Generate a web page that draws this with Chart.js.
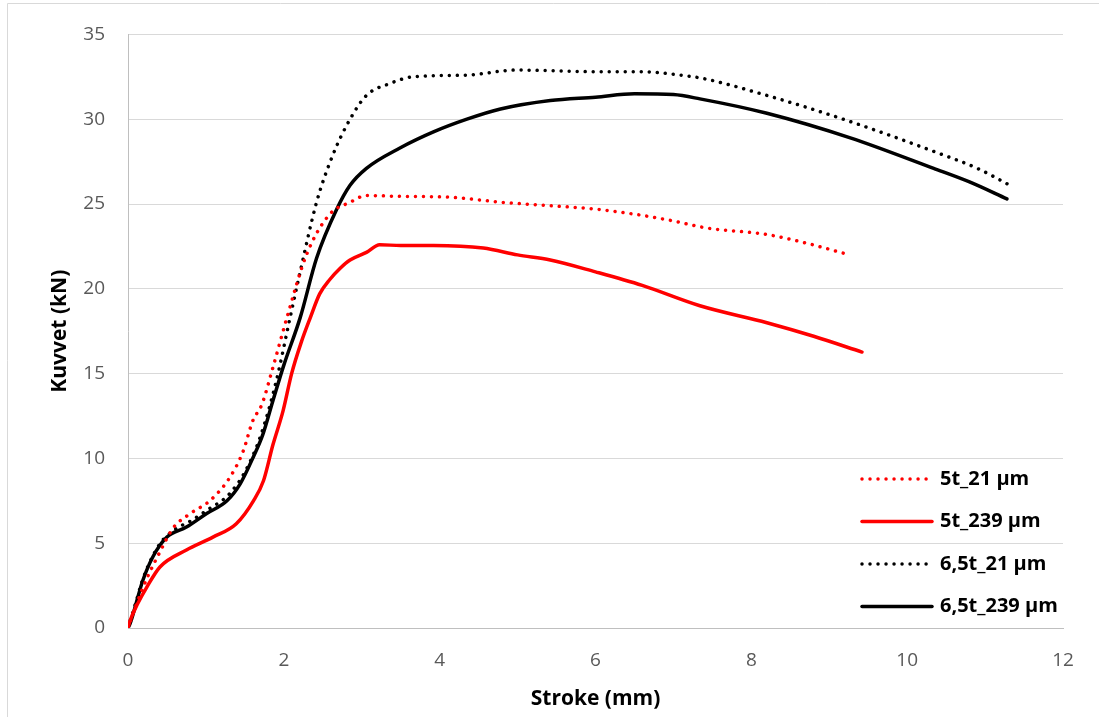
<!DOCTYPE html>
<html>
<head>
<meta charset="utf-8">
<script src="https://cdn.jsdelivr.net/npm/chart.js@4.4.1/dist/chart.umd.min.js"></script>
<style>
  body { margin: 0; background: #fff; }
  #wrap { width: 1099px; height: 717px; }
</style>
</head>
<body>
<div id="wrap"><canvas id="myCanvas" width="1099" height="717"></canvas></div>
<script>
// values (stroke in mm, force in kN)
const labels = ['5t_21 µm', '5t_239 µm', '6,5t_21 µm', '6,5t_239 µm']

const x5t21 = [0, 0.1, 0.25, 0.4, 0.58, 0.8, 1.05, 1.31, 1.48, 1.6, 1.72, 1.85, 2.04, 2.29, 2.59, 2.85, 3.06, 3.5, 4.13, 4.8, 5.42, 6.0, 6.5, 7.0, 7.41, 8.2, 8.7, 9.22]
const y5t21 = [0, 1.3, 3.0, 4.4, 5.9, 6.75, 7.5, 8.9, 10.45, 12.2, 13.2, 15.2, 18.3, 22.0, 24.4, 25.1, 25.5, 25.45, 25.4, 25.1, 24.9, 24.7, 24.4, 24.0, 23.6, 23.2, 22.7, 22.05]

const x5t239 = [0, 0.03, 0.12, 0.24, 0.41, 0.75, 1.09, 1.39, 1.61, 1.74, 1.86, 1.99, 2.1, 2.22, 2.34, 2.46, 2.59, 2.72, 2.85, 3.06, 3.23, 3.5, 3.92, 4.56, 5.0, 5.42, 6.0, 6.6, 7.34, 8.2, 8.8, 9.42]
const y5t239 = [0, 0.47, 1.4, 2.4, 3.6, 4.6, 5.36, 6.15, 7.5, 8.7, 10.8, 12.8, 15.0, 16.8, 18.3, 19.7, 20.55, 21.2, 21.7, 22.15, 22.6, 22.55, 22.55, 22.4, 22.0, 21.7, 21.0, 20.2, 19.0, 18.0, 17.2, 16.27]

const x65t21 = [0, 0.1, 0.2, 0.4, 0.6, 0.8, 1.0, 1.3, 1.5, 1.7, 1.9, 2.08, 2.21, 2.42, 2.63, 2.85, 3.06, 3.36, 3.66, 4.35, 4.99, 5.5, 6.0, 6.6, 7.0, 7.38, 8.2, 9.18, 10.34, 10.9, 11.36]
const y65t21 = [0, 1.5, 3.0, 4.9, 5.8, 6.3, 6.9, 7.9, 9.2, 11.3, 14.5, 18.3, 21.0, 25.1, 27.9, 30.0, 31.4, 32.1, 32.5, 32.6, 32.9, 32.85, 32.8, 32.8, 32.65, 32.4, 31.4, 30.0, 28.1, 27.1, 26.0]

const x65t239 = [0, 0.03, 0.19, 0.32, 0.5, 0.75, 1.01, 1.27, 1.44, 1.61, 1.73, 1.86, 2.0, 2.21, 2.42, 2.68, 2.85, 3.06, 3.49, 3.92, 4.35, 4.78, 5.42, 6.0, 6.5, 7.0, 7.34, 8.2, 9.27, 10.34, 10.8, 11.28]
const y65t239 = [0, 0.3, 2.8, 4.2, 5.36, 5.95, 6.75, 7.5, 8.5, 10.1, 11.4, 13.4, 15.5, 18.3, 21.8, 24.7, 26.1, 27.1, 28.3, 29.25, 30.0, 30.6, 31.1, 31.3, 31.5, 31.45, 31.2, 30.35, 28.9, 27.1, 26.3, 25.3]

const xMax = 12
const yMax = 35
const xStep = 2
const yStep = 5

const FONT = "'Open Sans', 'DejaVu Sans', sans-serif"

function pts(xs, ys){
  return xs.map((x, i) => ({x: x, y: ys[i]}))
}

function series(label, xs, ys, color, dotted){
  return {
    label: label,
    data: pts(xs, ys),
    borderColor: color,
    backgroundColor: color,
    borderWidth: 3.5,
    borderDash: dotted ? [0.01, 8] : [],
    borderCapStyle: 'round',
    borderJoinStyle: 'round',
    showLine: true,
    pointRadius: 0,
    pointHoverRadius: 0,
    cubicInterpolationMode: 'monotone'
  }
}

// frame round the chart (only top and left edges show in the picture)
const framePlugin = {
  id: 'frame',
  beforeDraw(chart){
    const ctx = chart.ctx
    ctx.save()
    ctx.strokeStyle = '#d9d9d9'
    ctx.lineWidth = 1
    ctx.beginPath()
    ctx.moveTo(7.5, chart.height)
    ctx.lineTo(7.5, 3.5)
    ctx.lineTo(chart.width, 3.5)
    ctx.stroke()
    ctx.restore()
  }
}

// legend sitting inside the plot, bottom right
const legendPlugin = {
  id: 'insideLegend',
  afterDatasetsDraw(chart){
    const ctx = chart.ctx
    const area = chart.chartArea
    const x0 = area.right - 201
    const x1 = area.right - 131
    let y = area.bottom - 149
    ctx.save()
    chart.data.datasets.forEach(ds => {
      ctx.strokeStyle = ds.borderColor
      ctx.lineWidth = ds.borderWidth
      ctx.lineCap = ds.borderCapStyle
      ctx.setLineDash(ds.borderDash)
      ctx.beginPath()
      ctx.moveTo(x0, y)
      ctx.lineTo(x1, y)
      ctx.stroke()
      ctx.setLineDash([])
      ctx.fillStyle = '#000'
      ctx.font = "bold 20px " + FONT
      ctx.textBaseline = 'middle'
      ctx.textAlign = 'left'
      ctx.fillText(ds.label, x1 + 8, y)
      y += 42.5
    })
    ctx.restore()
  }
}

const config = {
  type: 'scatter',
  data: {
    datasets: [
      series(labels[0], x5t21, y5t21, '#ff0000', true),
      series(labels[1], x5t239, y5t239, '#ff0000', false),
      series(labels[2], x65t21, y65t21, '#000000', true),
      series(labels[3], x65t239, y65t239, '#000000', false)
    ]
  },
  options: {
    responsive: false,
    animation: false,
    layout: { padding: { top: 32, right: 36, left: 0, bottom: 0 } },
    plugins: {
      legend: { display: false },
      tooltip: { enabled: false }
    },
    scales: {
      x: {
        type: 'linear',
        min: 0,
        max: xMax,
        afterFit(scale){ scale.height = 89 },
        grid: { display: false, drawTicks: false },
        border: { display: true, color: '#bfbfbf', width: 1 },
        ticks: {
          stepSize: xStep,
          padding: 21,
          color: '#595959',
          font: { family: FONT, size: 19 }
        },
        title: {
          display: true,
          text: 'Stroke (mm)',
          color: '#000',
          font: { family: FONT, size: 21, weight: 'bold' },
          padding: { top: 0, bottom: 5 }
        }
      },
      y: {
        type: 'linear',
        min: 0,
        max: yMax,
        afterFit(scale){ scale.width = 128 },
        grid: { color: '#d9d9d9', lineWidth: 1, drawTicks: false },
        border: { display: true, color: '#bfbfbf', width: 1 },
        ticks: {
          stepSize: yStep,
          padding: 23,
          color: '#595959',
          font: { family: FONT, size: 19 }
        },
        title: {
          display: true,
          text: 'Kuvvet (kN)',
          color: '#000',
          font: { family: FONT, size: 21, weight: 'bold' },
          padding: { top: 47, bottom: 0 }
        }
      }
    }
  },
  plugins: [framePlugin, legendPlugin]
}

var myChart = new Chart(document.getElementById('myCanvas'), config)
</script>
</body>
</html>
